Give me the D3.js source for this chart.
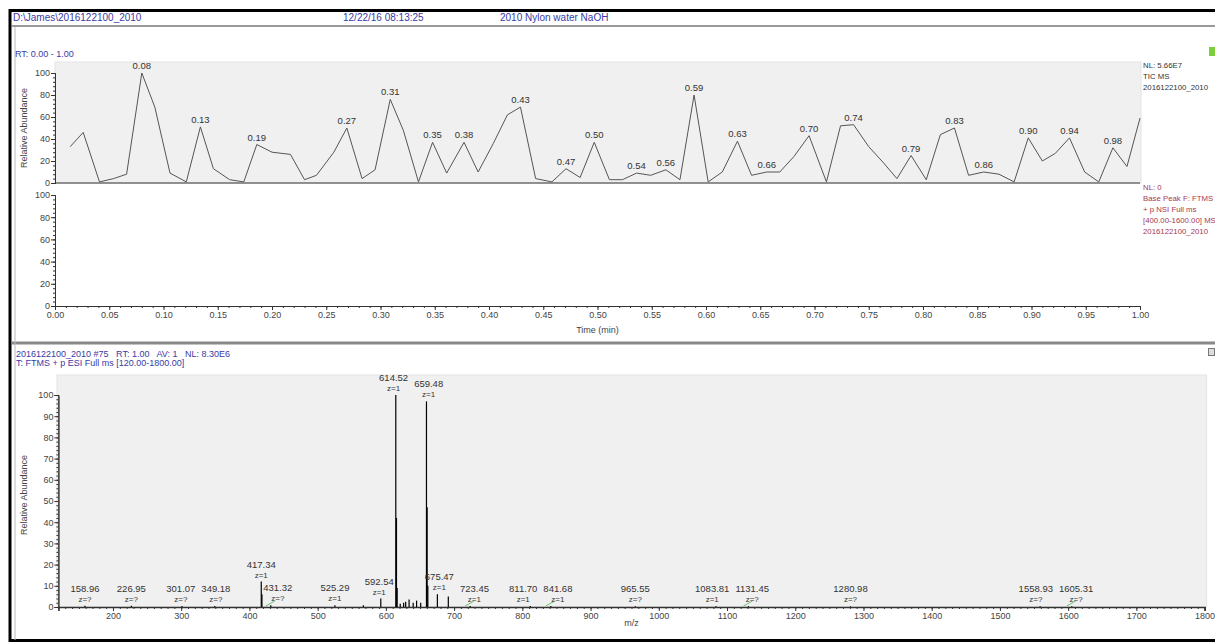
<!DOCTYPE html>
<html>
<head>
<meta charset="utf-8">
<script src="https://cdn.jsdelivr.net/npm/d3@7"></script>
<style>
  body { margin: 0; background: #fff; }
  svg { display: block; font-family: "Liberation Sans", Arial, sans-serif; }
  .tick text { font-size: 9px; fill: #444; }
  .axis path, .axis line { stroke: #333; }
</style>
</head>
<body>
<div id="chart"></div>
<script>
const width = 1215
const height = 643

// --- Data ---

// TIC chromatogram: scan time (min) and relative abundance (%)
const ticTimes = [0.014, 0.026, 0.041, 0.054, 0.066, 0.080, 0.092, 0.106, 0.121, 0.134,
  0.146, 0.161, 0.174, 0.186, 0.200, 0.217, 0.230, 0.241, 0.257, 0.269,
  0.283, 0.295, 0.309, 0.321, 0.335, 0.348, 0.361, 0.377, 0.390, 0.404,
  0.417, 0.429, 0.443, 0.458, 0.471, 0.484, 0.497, 0.511, 0.523, 0.536,
  0.549, 0.563, 0.576, 0.589, 0.602, 0.615, 0.629, 0.642, 0.656, 0.668,
  0.681, 0.695, 0.711, 0.724, 0.736, 0.750, 0.763, 0.776, 0.789, 0.803,
  0.816, 0.829, 0.842, 0.856, 0.870, 0.884, 0.897, 0.910, 0.922, 0.935,
  0.949, 0.962, 0.975, 0.988, 1.000]
const ticValues = [33, 46, 1, 4, 8, 100, 69, 9, 1, 51,
  13, 3, 1, 35, 28, 26, 3, 7, 28, 50,
  4, 12, 76, 48, 1, 37, 9, 37, 10, 36,
  62, 69, 4, 1, 13, 5, 37, 3, 3, 9,
  7, 12, 3, 80, 1, 10, 38, 7, 10, 10,
  24, 43, 1, 52, 53, 33, 19, 4, 25, 3,
  44, 50, 7, 10, 8, 1, 41, 20, 27, 41,
  10, 1, 32, 15, 59]
const ticPeakLabels = ["0.08", "0.13", "0.19", "0.27", "0.31", "0.35", "0.38", "0.43",
  "0.47", "0.50", "0.54", "0.56", "0.59", "0.63", "0.66", "0.70", "0.74", "0.79",
  "0.83", "0.86", "0.90", "0.94", "0.98"]
const timeTicks = d3.range(0, 1.0001, 0.05)

// Mass spectrum: m/z and relative abundance (%)
const specMz = [158.96, 226.95, 301.07, 349.18, 417.34, 418.34, 431.32, 525.29, 567.0, 592.54,
  614.52, 615.52, 616.52, 621.0, 626.0, 629.0, 634.0, 640.0, 645.0, 651.0,
  659.48, 660.48, 661.48, 675.47, 691.5, 723.45, 811.70, 841.68, 965.55, 1083.81,
  1131.45, 1280.98, 1558.93, 1605.31]
const specValues = [0.6, 0.6, 0.5, 0.5, 12, 6, 0.8, 0.8, 0.8, 4,
  100, 42, 9, 1.5, 2, 2.5, 3.5, 2, 3, 2,
  97, 47, 10, 6, 5, 0.5, 0.5, 0.5, 0.4, 0.4,
  0.4, 0.3, 0.3, 0.3]
const specLabels = ["158.96", "226.95", "301.07", "349.18", "417.34", "431.32", "525.29", "592.54",
  "614.52", "659.48", "675.47", "723.45", "811.70", "841.68", "965.55", "1083.81",
  "1131.45", "1280.98", "1558.93", "1605.31"]
const specCharges = ["z=?", "z=?", "z=?", "z=?", "z=1", "z=?", "z=1", "z=1",
  "z=1", "z=1", "z=1", "z=1", "z=1", "z=1", "z=?", "z=1",
  "z=?", "z=?", "z=?", "z=?"]
const greenMarks = [431.32, 723.45, 841.68, 1131.45, 1605.31]
const mzTicks = d3.range(200, 1801, 100)

// Header and annotation texts
const headerTexts = ["D:\\James\\2016122100_2010", "12/22/16 08:13:25", "2010 Nylon water NaOH"]
const ticNotes = ["NL: 5.66E7", "TIC  MS", "2016122100_2010"]
const bpNotes = ["NL: 0", "Base Peak F: FTMS", "+ p NSI Full ms", "[400.00-1600.00] MS", "2016122100_2010"]
const specHeader = ["2016122100_2010 #75   RT: 1.00   AV: 1   NL: 8.30E6", "T: FTMS + p ESI Full ms [120.00-1800.00]"]

// --- Svg ---
const svg = d3.select("#chart")
              .append("svg")
                .attr("width", width)
                .attr("height", height)

const blue = "#3a3aa6"
const maroon = "#a8384f"

// window frame and panel separators
svg.append("rect")
   .attr("x", 10).attr("y", 10.5)
   .attr("width", width).attr("height", 630)
   .attr("fill", "none").attr("stroke", "#000").attr("stroke-width", 3)
svg.append("line")
   .attr("x1", 12).attr("x2", width).attr("y1", 26).attr("y2", 26)
   .attr("stroke", "#999").attr("stroke-width", 2)
svg.append("line")
   .attr("x1", 12).attr("x2", width).attr("y1", 343).attr("y2", 343)
   .attr("stroke", "#888").attr("stroke-width", 3)
svg.append("line")
   .attr("x1", 15).attr("x2", 15).attr("y1", 27).attr("y2", 640)
   .attr("stroke", "#bbb").attr("stroke-width", 1)

// header
const headerX = [13, 343, 500]
svg.selectAll(".header")
   .data(headerTexts)
   .enter().append("text")
     .attr("x", (d, i) => headerX[i])
     .attr("y", 21)
     .attr("font-size", 10)
     .attr("fill", blue)
     .text(d => d)

svg.append("text")
   .attr("x", 15).attr("y", 57)
   .attr("font-size", 9).attr("fill", blue)
   .text("RT: 0.00 - 1.00")

// --- Chromatogram panel ---
const xTime = d3.scaleLinear().domain([0, 1]).range([55, 1140])
const yTic = d3.scaleLinear().domain([0, 100]).range([183, 73])
const yBp = d3.scaleLinear().domain([0, 100]).range([306, 195])

svg.append("rect")
   .attr("x", xTime(0)).attr("y", 62)
   .attr("width", xTime(1) - xTime(0) + 1).attr("height", yTic(0) - 62)
   .attr("fill", "#f0f0f0").attr("stroke", "#e4e4e4")

const yAxisWithMinor = (scale, x, major, minor) => {
  svg.append("g")
     .attr("class", "axis")
     .attr("transform", `translate(${x}, 0)`)
     .call(d3.axisLeft(scale).tickValues(minor).tickSize(2).tickFormat(""))
  svg.append("g")
     .attr("class", "axis")
     .attr("transform", `translate(${x}, 0)`)
     .call(d3.axisLeft(scale).tickValues(major).tickSize(4).tickPadding(1))
}

yAxisWithMinor(yTic, xTime(0), d3.range(0, 101, 20), d3.range(0, 101, 4))
yAxisWithMinor(yBp, xTime(0), d3.range(0, 101, 20), d3.range(0, 101, 4))

// baseline of TIC trace
svg.append("line")
   .attr("x1", xTime(0)).attr("x2", xTime(1))
   .attr("y1", yTic(0)).attr("y2", yTic(0))
   .attr("stroke", "#333")

const ticData = ticTimes.map((t, i) => ({ t: t, v: ticValues[i] }))

svg.append("path")
   .datum(ticData)
   .attr("fill", "none")
   .attr("stroke", "#555")
   .attr("stroke-width", 1)
   .attr("d", d3.line()
     .x(d => xTime(d.t))
     .y(d => yTic(d.v)))

// peak labels sit on the nearest scan
const nearestScan = t => ticData.reduce((a, b) => Math.abs(b.t - t) < Math.abs(a.t - t) ? b : a)
svg.selectAll(".tic-label")
   .data(ticPeakLabels)
   .enter().append("text")
     .attr("x", d => xTime(nearestScan(+d).t))
     .attr("y", d => yTic(nearestScan(+d).v) - 4)
     .attr("text-anchor", "middle")
     .attr("font-size", 9.5)
     .attr("fill", "#333")
     .text(d => d)

// time axis (shared, under the empty base peak plot)
svg.append("g")
   .attr("class", "axis")
   .attr("transform", `translate(0, ${yBp(0)})`)
   .call(d3.axisBottom(xTime).tickValues(d3.range(0, 1.0001, 0.01)).tickSize(2).tickFormat(""))
svg.append("g")
   .attr("class", "axis")
   .attr("transform", `translate(0, ${yBp(0)})`)
   .call(d3.axisBottom(xTime).tickValues(timeTicks).tickSize(4).tickPadding(2).tickFormat(d3.format(".2f")))

svg.append("text")
   .attr("x", xTime(0.5)).attr("y", 333)
   .attr("text-anchor", "middle").attr("font-size", 9).attr("fill", "#444")
   .text("Time (min)")

// y titles
const yTitle = (y) => {
  svg.append("text")
     .attr("transform", `translate(27, ${y}) rotate(-90)`)
     .attr("text-anchor", "middle")
     .attr("font-size", 9)
     .attr("fill", "#444")
     .text("Relative Abundance")
}
yTitle(yTic(50))
yTitle(495)

// right-hand notes
svg.selectAll(".tic-note")
   .data(ticNotes)
   .enter().append("text")
     .attr("x", 1143).attr("y", (d, i) => 68 + i * 11)
     .attr("font-size", 7.8).attr("fill", "#333")
     .text(d => d)
svg.selectAll(".bp-note")
   .data(bpNotes)
   .enter().append("text")
     .attr("x", 1143).attr("y", (d, i) => 190 + i * 11)
     .attr("font-size", 7.8).attr("fill", maroon)
     .text(d => d)
svg.append("rect")
   .attr("x", 1209).attr("y", 47).attr("width", 6).attr("height", 9)
   .attr("fill", "#7ccf3a")
// small pin icon on the spectrum panel
svg.append("rect")
   .attr("x", 1208.5).attr("y", 348.5).attr("width", 6).attr("height", 7)
   .attr("fill", "#ddd").attr("stroke", "#777")

// --- Spectrum panel ---
svg.selectAll(".spec-header")
   .data(specHeader)
   .enter().append("text")
     .attr("x", 16).attr("y", (d, i) => 357 + i * 9)
     .attr("font-size", 9).attr("fill", blue)
     .attr("xml:space", "preserve")
     .text(d => d)

const xMz = d3.scaleLinear().domain([120, 1800]).range([58.4, 1204.6])
const yMz = d3.scaleLinear().domain([0, 100]).range([607, 395])

svg.append("rect")
   .attr("x", 57).attr("y", 375)
   .attr("width", xMz(1800) - 57 + 2).attr("height", yMz(0) - 375)
   .attr("fill", "#f0f0f0").attr("stroke", "#e4e4e4")

svg.append("g")
   .attr("class", "axis")
   .attr("transform", `translate(${xMz(120)}, 0)`)
   .call(d3.axisLeft(yMz).tickValues(d3.range(0, 101, 2)).tickSize(2).tickFormat(""))
svg.append("g")
   .attr("class", "axis")
   .attr("transform", `translate(${xMz(120)}, 0)`)
   .call(d3.axisLeft(yMz).tickValues(d3.range(0, 101, 10)).tickSize(4).tickPadding(1))

svg.append("g")
   .attr("class", "axis")
   .attr("transform", `translate(0, ${yMz(0)})`)
   .call(d3.axisBottom(xMz).tickValues(d3.range(120, 1801, 10)).tickSize(2).tickFormat(""))
svg.append("g")
   .attr("class", "axis")
   .attr("transform", `translate(0, ${yMz(0)})`)
   .call(d3.axisBottom(xMz).tickValues(mzTicks).tickSize(4).tickPadding(2).tickFormat(d3.format("d")))
   .select(".domain").attr("stroke-width", 1.6)

svg.append("text")
   .attr("x", xMz(960)).attr("y", 626)
   .attr("text-anchor", "middle").attr("font-size", 9).attr("fill", "#444")
   .text("m/z")

const specData = specMz.map((m, i) => ({ mz: m, v: specValues[i] }))

svg.selectAll(".peak")
   .data(specData)
   .enter().append("line")
     .attr("x1", d => xMz(d.mz)).attr("x2", d => xMz(d.mz))
     .attr("y1", yMz(0)).attr("y2", d => yMz(d.v))
     .attr("stroke", "#000").attr("stroke-width", 1.2)

svg.selectAll(".green-mark")
   .data(greenMarks)
   .enter().append("line")
     .attr("x1", d => xMz(d) - 5).attr("x2", d => xMz(d) + 4)
     .attr("y1", yMz(0) - 1).attr("y2", yMz(0) - 6)
     .attr("stroke", "#6cbf6c").attr("stroke-width", 1)

// peak labels: mass on top, charge below, nudged off other peaks and each other
const peakHeight = label => specData.find(d => d.mz === +label).v

const labelGroups = svg.selectAll(".spec-label")
   .data(specLabels.map((d, i) => ({ text: d, charge: specCharges[i], mz: +d, x: xMz(+d), y: yMz(peakHeight(d)) })))
   .enter().append("g")

labelGroups.append("text")
   .attr("y", -14)
   .attr("text-anchor", "middle")
   .attr("font-size", 9.5).attr("fill", "#333")
   .text(d => d.text)
labelGroups.append("text")
   .attr("y", -4)
   .attr("text-anchor", "middle")
   .attr("font-size", 8).attr("fill", "#333")
   .text(d => d.charge)

labelGroups.each(function(d) { d.w = this.getBBox().width })

const placed = labelGroups.data()
placed.forEach(lab => {
  specData.forEach(p => {
    if (Math.abs(p.mz - lab.mz) < 4) return
    const px = xMz(p.mz)
    if (yMz(p.v) > lab.y - 12) return
    const left = lab.x - lab.w / 2, right = lab.x + lab.w / 2
    if (px > left - 2 && px < right + 2) {
      lab.x = px < lab.x ? px + lab.w / 2 + 2 : px - lab.w / 2 - 2
    }
  })
})
placed.sort((a, b) => a.x - b.x)
for (let k = 0; k < 20; k++) {
  for (let i = 1; i < placed.length; i++) {
    const a = placed[i - 1], b = placed[i]
    if (Math.abs(a.y - b.y) > 20) continue
    const gap = (b.x - b.w / 2) - (a.x + a.w / 2) - 6
    if (gap < 0) { a.x += gap / 2; b.x -= gap / 2 }
  }
}
labelGroups.attr("transform", d => `translate(${d.x}, ${d.y})`)
</script>
</body>
</html>
